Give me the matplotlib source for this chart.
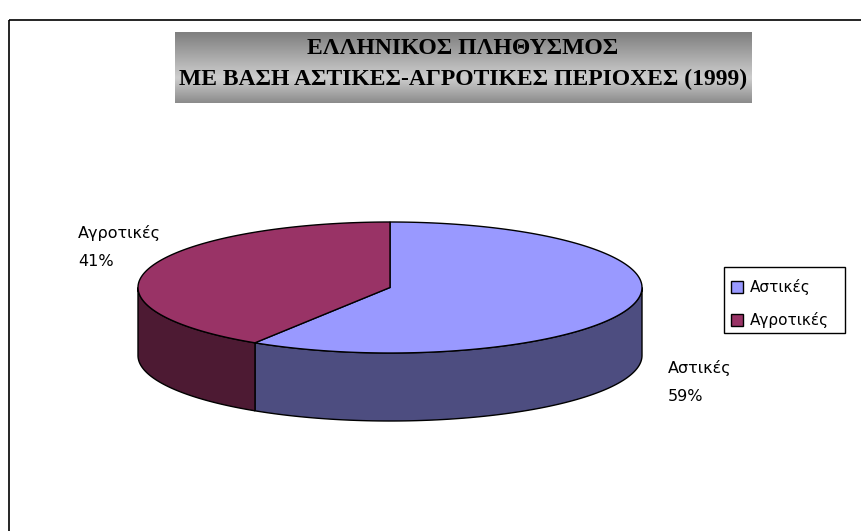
import numpy as np
import matplotlib
matplotlib.use("Agg")
import matplotlib.pyplot as plt
from matplotlib.patches import Polygon, Rectangle

# Δεδομένα
labels = ["Αστικές", "Αγροτικές"]
values = [59, 41]
top_colors = ["#9999FF", "#993366"]
side_colors = ["#4D4D80", "#4D1A33"]
title = "ΕΛΛΗΝΙΚΟΣ ΠΛΗΘΥΣΜΟΣ\nΜΕ ΒΑΣΗ ΑΣΤΙΚΕΣ-ΑΓΡΟΤΙΚΕΣ ΠΕΡΙΟΧΕΣ (1999)"

W, H = 862, 531
fig = plt.figure(figsize=(W / 100, H / 100), dpi=100)
ax = fig.add_axes([0, 0, 1, 1])
ax.set_xlim(0, W)
ax.set_ylim(H, 0)
ax.axis("off")

# cadre du graphique
ax.add_patch(Rectangle((9, 20), 870, 540, fill=False, ec="black", lw=1.2))

# titre avec fond en dégradé
grad = np.concatenate([np.linspace(0.50, 0.80, 45), np.linspace(0.80, 0.55, 25)])
ax.imshow(grad.reshape(-1, 1), cmap="gray", vmin=0, vmax=1, aspect="auto",
          extent=(175, 752, 103, 32), zorder=1)
ax.set_xlim(0, W)
ax.set_ylim(H, 0)
ax.text(463, 64, title, ha="center", va="center", fontsize=17,
        fontweight="bold", family="Liberation Serif", linespacing=1.6, zorder=2)

# camembert 3D
cx, cy, a, b, depth = 390, 287.5, 252, 65.5, 68
fracs = np.array(values) / np.sum(values)
bounds = np.concatenate([[0], np.cumsum(fracs) * 360])


def pt(theta, dy=0):
    t = np.radians(theta)
    return cx + a * np.sin(t), cy - b * np.cos(t) + dy


# côtés visibles (moitié avant : 90° -> 270°)
for i in range(len(values)):
    lo, hi = max(bounds[i], 90), min(bounds[i + 1], 270)
    if hi <= lo:
        continue
    th = np.linspace(lo, hi, 100)
    xs, ys = pt(th)
    xb, yb = pt(th[::-1], depth)
    poly = np.column_stack([np.concatenate([xs, xb]), np.concatenate([ys, yb])])
    ax.add_patch(Polygon(poly, closed=True, fc=side_colors[i], ec="black", lw=1, zorder=3))

# faces supérieures
for i in range(len(values)):
    th = np.linspace(bounds[i], bounds[i + 1], 200)
    xs, ys = pt(th)
    poly = np.column_stack([np.concatenate([[cx], xs]), np.concatenate([[cy], ys])])
    ax.add_patch(Polygon(poly, closed=True, fc=top_colors[i], ec="black", lw=1, zorder=4))

# étiquettes
label_pos = [(668, 382), (78, 247)]
for (x, y), lab, v in zip(label_pos, labels, values):
    ax.text(x, y, f"{lab}\n{v}%", ha="left", va="center", fontsize=11.5,
            linespacing=2.1, zorder=5)

# légende
ax.add_patch(Rectangle((724, 267), 121, 66, fill=False, ec="black", lw=1, zorder=5))
for k, (lab, c) in enumerate(zip(labels, top_colors)):
    y = 287 + 33 * k
    ax.add_patch(Rectangle((731, y - 6), 12, 12, fc=c, ec="black", lw=1, zorder=6))
    ax.text(750, y, lab, ha="left", va="center", fontsize=11, zorder=6)

fig.savefig("out.png", dpi=100)
